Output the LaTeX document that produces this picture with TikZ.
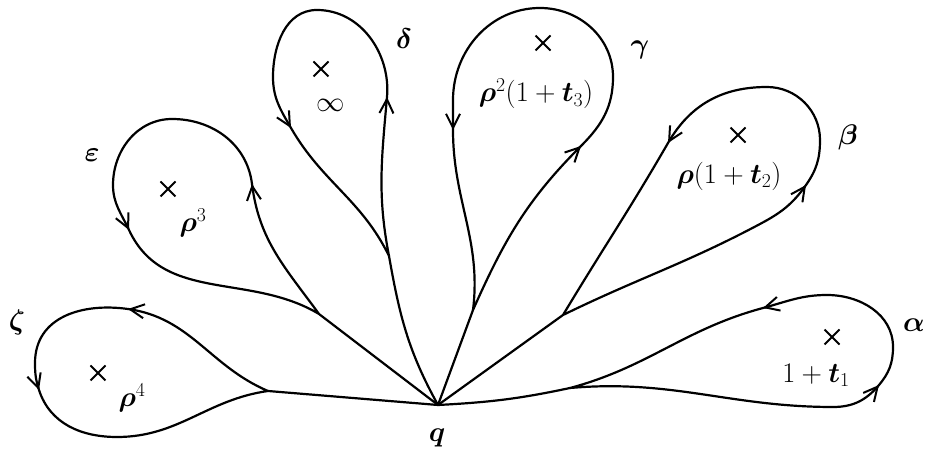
\documentclass[tikz,border=0pt]{standalone}
\usepackage{bm}
\usetikzlibrary{arrows.meta}
\newcommand\arrat[2]{\draw[arr] (#1) ++({180+#2}:2) -- (#1);}
\newcommand\lbl[1]{\scalebox{1.14}{#1}}
\begin{document}
\begin{tikzpicture}[x=1pt,y=1pt,
  curve/.style={line width=2.2pt, line join=round, line cap=round},
  arr/.style={line width=2pt, -{Straight Barb[length=14pt,width=14pt]}},
  lab/.style={font=\fontsize{26}{30}\selectfont, inner sep=0pt},
  xmark/.pic={\draw[line width=2pt] (-7.5,-7.5) -- (7.5,7.5) (-7.5,7.5) -- (7.5,-7.5);}]
\useasboundingbox (0,0) rectangle (925,457);
% base point and junctions
\coordinate (q) at (438,52);
\coordinate (Jz) at (268,66);
\coordinate (Je) at (319,143);
\coordinate (Jd) at (389,201);
\coordinate (Jg) at (473,147);
\coordinate (Jb) at (563,142);
\coordinate (Ja) at (570,69);
% waypoints
\coordinate (Az) at (128,148); \coordinate (Lz) at (35,94);
\coordinate (A2z) at (39,67);  \coordinate (Bz) at (117,20);
\coordinate (Ae) at (252,273); \coordinate (Te) at (172,338);
\coordinate (Le) at (113,272); \coordinate (A2e) at (129,227);
\coordinate (Ad) at (387,360); \coordinate (Td) at (317,447);
\coordinate (Ld) at (273,380); \coordinate (A2d) at (291,329);
\coordinate (Ag) at (581,311); \coordinate (Rg) at (613,380);
\coordinate (Tg) at (540,449); \coordinate (Lg) at (453,357);
\coordinate (A2g) at (453,327);
\coordinate (Mb) at (760,233); \coordinate (Ab) at (806,272);
\coordinate (Rb) at (820,317); \coordinate (Tb) at (767,370);
\coordinate (A2b) at (668,314);
\coordinate (Ba) at (833,50);  \coordinate (Aa) at (879,72);
\coordinate (Ra) at (893,110); \coordinate (Ta) at (827,162);
\coordinate (A2a) at (763,149);
% stems
\draw[curve] (q) -- (Jz);
\draw[curve] (q) -- (Je);
\draw[curve] (Jd) to[out=280,in=119] (q);
\draw[curve] (q) -- (Jg);
\draw[curve] (q) -- (Jb);
\draw[curve] (q) to[out=3,in=192] (Ja);
% loops
\draw[curve] (Jz) to[out=157,in=-8] (Az) to[out=172,in=90,looseness=1.1] (Lz)
  to[out=270,in=108] (A2z) to[out=288,in=180] (Bz) to[out=0,in=188] (Jz);
\draw[curve] (Je) to[out=126,in=277] (Ae) to[out=97,in=0] (Te)
  to[out=180,in=90] (Le) to[out=270,in=115] (A2e) to[out=295,in=149] (Je);
\draw[curve] (Jd) to[out=101,in=265] (Ad) to[out=85,in=0] (Td)
  to[out=180,in=90] (Ld) to[out=270,in=120] (A2d) to[out=300,in=116] (Jd);
\draw[curve] (Jg) to[out=66,in=225] (Ag) to[out=45,in=270] (Rg)
  to[out=90,in=0] (Tg) to[out=180,in=90] (Lg) -- (A2g) to[out=270,in=83] (Jg);
\draw[curve] (Jb) to[out=26,in=208] (Mb) to[out=28,in=235] (Ab)
  to[out=55,in=270] (Rb) to[out=90,in=0] (Tb) to[out=180,in=60] (A2b)
  to[out=240,in=59] (Jb);
\draw[curve] (Ja) to[out=5,in=180] (Ba) to[out=0,in=230] (Aa)
  to[out=50,in=270] (Ra) to[out=90,in=0] (Ta) to[out=180,in=15] (A2a)
  to[out=195,in=15] (Ja);
% arrowheads
\arrat{Az}{172}
\arrat{A2z}{288}
\arrat{Ae}{97}
\arrat{A2e}{295}
\arrat{Ad}{88}
\arrat{A2d}{300}
\arrat{Ag}{45}
\arrat{A2g}{270}
\arrat{Ab}{55}
\arrat{A2b}{240}
\arrat{Aa}{50}
\arrat{A2a}{195}
% crosses
\pic at (98,84) {xmark};
\pic at (168,268) {xmark};
\pic at (321,388) {xmark};
\pic at (543,414) {xmark};
\pic at (738,322) {xmark};
\pic at (832,120) {xmark};
% values
\node[lab] (vz) at (132,59) {\lbl{$\bm{\rho}^{4}$}};
\node[lab] (ve) at (193,234) {\lbl{$\bm{\rho}^{3}$}};
\node[lab] (vd) at (331,352) {\lbl{$\infty$}};
\node[lab] (vg) at (536,363) {\lbl{$\bm{\rho}^{2}(1+\bm{t}_{3})$}};
\node[lab] (vb) at (729,281) {\lbl{$\bm{\rho}(1+\bm{t}_{2})$}};
\node[lab] (va) at (816,82) {\lbl{$1+\bm{t}_{1}$}};
% loop names
\node[lab] (nz) at (17,135) {\lbl{$\bm{\zeta}$}};
\node[lab] (ne) at (92,302) {\lbl{$\bm{\varepsilon}$}};
\node[lab] (nd) at (404,418) {\lbl{$\bm{\delta}$}};
\node[lab] (ng) at (640,407) {\lbl{$\bm{\gamma}$}};
\node[lab] (nb) at (848,320) {\lbl{$\bm{\beta}$}};
\node[lab] (na) at (914,132) {\lbl{$\bm{\alpha}$}};
\node[lab] (nq) at (437,19) {\lbl{$\bm{q}$}};
\end{tikzpicture}
\end{document}
